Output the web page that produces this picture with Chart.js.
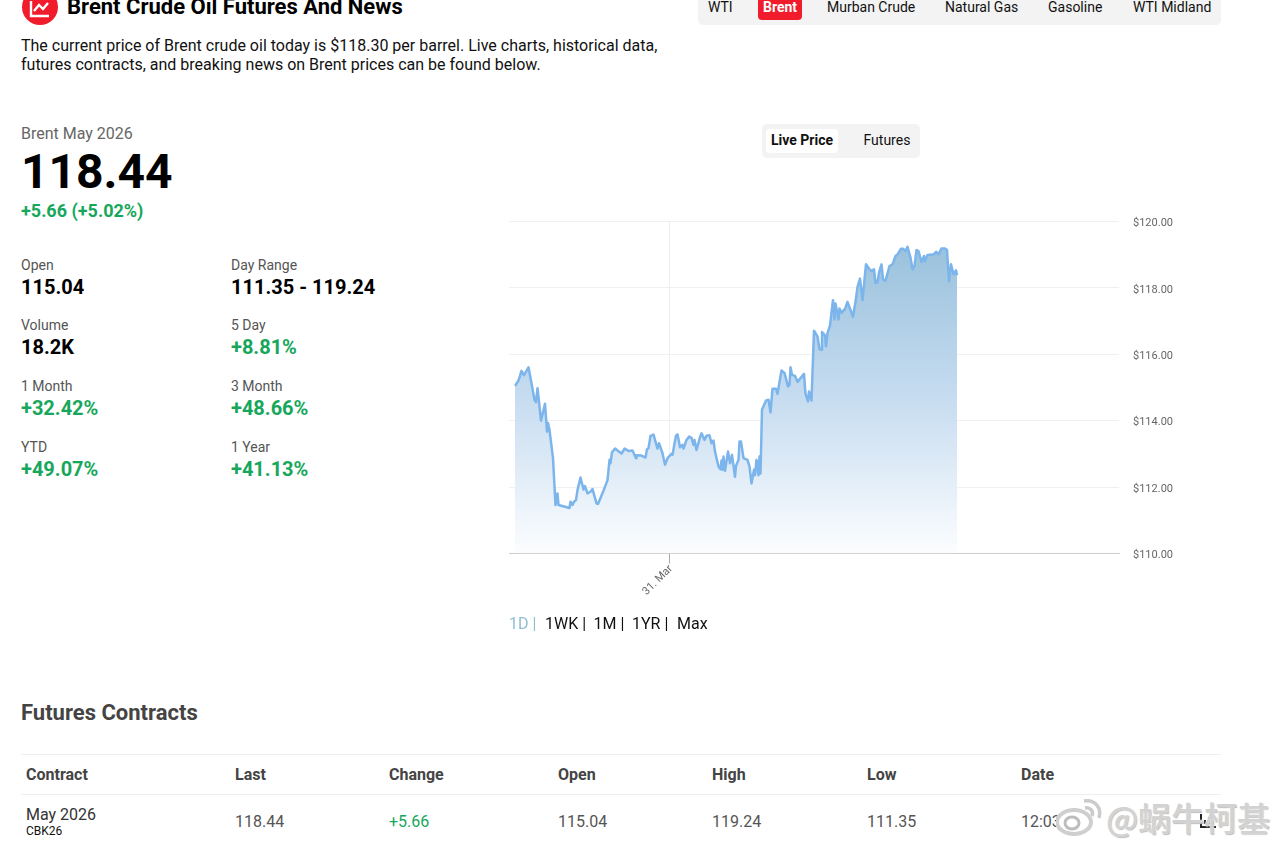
<!DOCTYPE html>
<html lang="en"><head><meta charset="utf-8">
<script src="https://cdn.jsdelivr.net/npm/chart.js@4"></script>
<style>
html,body{margin:0;padding:0;background:#fff;overflow:hidden;width:1282px;height:849px;font-family:Roboto,sans-serif;color:#000}
.t{position:absolute;white-space:nowrap;line-height:20px}
.lab{font-size:14px;color:#555}
.val{font-size:20px;font-weight:700;color:#000}
.th{font-size:16px;font-weight:700;color:#444}
.td{font-size:16px;color:#555}
.nav{font-size:14px;color:#111}
.g{color:#16a75c}
.box{position:absolute}
canvas{position:absolute;left:500px;top:200px}
</style></head><body>
<svg class="box" style="left:21px;top:-11px" width="38" height="36" viewBox="0 0 38 36"><circle cx="19" cy="18" r="18" fill="#f01c2c"/><path d="M10 12V27H28M13 22L18 16L22 20L27 14" fill="none" stroke="#fff" stroke-width="2.4"/></svg>
<div class="t" style="left:67px;top:-3px;font-size:22px;font-weight:700">Brent Crude Oil Futures And News</div>
<div class="t" style="left:21px;top:36px;font-size:16px;line-height:19px;color:#111">The current price of Brent crude oil today is $118.30 per barrel. Live charts, historical data,<br>futures contracts, and breaking news on Brent prices can be found below.</div>

<div class="box" style="left:698px;top:-10px;width:523px;height:35px;background:#f3f3f3;border-radius:5px"></div>
<div class="box" style="left:758px;top:-5px;width:44px;height:25px;background:#f01c2c;border-radius:4px"></div>
<div class="t nav" style="left:708px;top:-3px">WTI</div>
<div class="t nav" style="left:763px;top:-3px;color:#fff;font-weight:700">Brent</div>
<div class="t nav" style="left:827px;top:-3px">Murban Crude</div>
<div class="t nav" style="left:945px;top:-3px">Natural Gas</div>
<div class="t nav" style="left:1048px;top:-3px">Gasoline</div>
<div class="t nav" style="left:1133px;top:-3px">WTI Midland</div>

<div class="box" style="left:762px;top:124px;width:158px;height:34px;background:#f3f3f3;border-radius:5px"></div>
<div class="box" style="left:766px;top:129px;width:72px;height:24px;background:#fff;border-radius:4px"></div>
<div class="t nav" style="left:771px;top:130px;font-weight:700">Live Price</div>
<div class="t nav" style="left:863.5px;top:130px">Futures</div>

<div class="t" style="left:21px;top:124px;font-size:16px;color:#666">Brent May 2026</div>
<div class="t" style="left:21px;top:147px;font-size:48px;line-height:50px;font-weight:700">118.44</div>
<div class="t g" style="left:21px;top:201px;font-size:18px;font-weight:700">+5.66 (+5.02%)</div>

<div class="t lab" style="left:21px;top:255px">Open</div><div class="t val" style="left:21px;top:277px">115.04</div>
<div class="t lab" style="left:231px;top:255px">Day Range</div><div class="t val" style="left:231px;top:277px">111.35 - 119.24</div>
<div class="t lab" style="left:21px;top:315px">Volume</div><div class="t val" style="left:21px;top:337px">18.2K</div>
<div class="t lab" style="left:231px;top:315px">5 Day</div><div class="t val g" style="left:231px;top:337px">+8.81%</div>
<div class="t lab" style="left:21px;top:376px">1 Month</div><div class="t val g" style="left:21px;top:398px">+32.42%</div>
<div class="t lab" style="left:231px;top:376px">3 Month</div><div class="t val g" style="left:231px;top:398px">+48.66%</div>
<div class="t lab" style="left:21px;top:437px">YTD</div><div class="t val g" style="left:21px;top:459px">+49.07%</div>
<div class="t lab" style="left:231px;top:437px">1 Year</div><div class="t val g" style="left:231px;top:459px">+41.13%</div>

<canvas id="c" width="700" height="420" style="width:700px;height:420px"></canvas>

<div class="t" style="left:509px;top:614px;font-size:16px;color:#8fbdd3">1D |</div>
<div class="t" style="left:545px;top:614px;font-size:16px;color:#111">1WK |</div>
<div class="t" style="left:593.5px;top:614px;font-size:16px;color:#111">1M |</div>
<div class="t" style="left:632px;top:614px;font-size:16px;color:#111">1YR |</div>
<div class="t" style="left:677px;top:614px;font-size:16px;color:#111">Max</div>

<div class="t" style="left:21px;top:701px;font-size:22px;line-height:24px;font-weight:700;color:#444">Futures Contracts</div>
<div class="box" style="left:21px;top:754px;width:1200px;height:1px;background:#eee"></div>
<div class="box" style="left:21px;top:794px;width:1200px;height:1px;background:#eee"></div>
<div class="t th" style="left:26px;top:765px">Contract</div>
<div class="t th" style="left:235px;top:765px">Last</div>
<div class="t th" style="left:389px;top:765px">Change</div>
<div class="t th" style="left:558px;top:765px">Open</div>
<div class="t th" style="left:712px;top:765px">High</div>
<div class="t th" style="left:867px;top:765px">Low</div>
<div class="t th" style="left:1021px;top:765px">Date</div>
<div class="t" style="left:26px;top:805px;font-size:16px;color:#333">May 2026</div>
<div class="t" style="left:26px;top:821px;font-size:12px;color:#111">CBK26</div>
<div class="t td" style="left:235px;top:812px">118.44</div>
<div class="t td g" style="left:389px;top:812px">+5.66</div>
<div class="t td" style="left:558px;top:812px">115.04</div>
<div class="t td" style="left:712px;top:812px">119.24</div>
<div class="t td" style="left:867px;top:812px">111.35</div>
<div class="t td" style="left:1021px;top:812px">12:03</div>
<svg class="box" style="left:1200px;top:813px" width="18" height="16"><path d="M1 1V14H16M5 11V7M9 11V4M13 11V8" fill="none" stroke="#222" stroke-width="2"/></svg>

<svg class="box" style="left:1056px;top:796px" width="50" height="40" viewBox="0 0 50 40"><ellipse cx="18" cy="26" rx="17" ry="12" fill="#fff" stroke="#cfcfcf" stroke-width="4"/><ellipse cx="16" cy="27" rx="7" ry="6" fill="none" stroke="#bdbdbd" stroke-width="3"/><path d="M28 5C39 3 46 12 43 22M29 12C34 11 38 15 36 20" fill="none" stroke="#cbcbcb" stroke-width="3.5"/></svg>
<div class="t" style="left:1106px;top:799px;font-family:'Noto Sans CJK SC';font-weight:500;font-size:33px;line-height:36px;color:#d2d2d2;text-shadow:0 0 2px #fff,1px 1px 1px #aaa">@蜗牛柯基</div>

<script>
const minutes=[-308,-301,-295,-290,-281,-275,-269,-266,-263,-259,-256,-248,-244,-242,-239,-232,-227,-223,-221,-199,-197,-193,-190,-186,-183,-177,-171,-168,-163,-157,-153,-145,-142,-130,-123,-119,-117,-114,-108,-95,-89,-81,-73,-66,-65,-55,-47,-44,-41,-37,-31,-23,-20,-13,-8,-3,5,7,10,14,17,22,27,29,35,40,45,49,51,55,62,65,71,75,81,85,89,92,99,103,105,107,109,112,118,122,126,132,134,139,141,144,149,157,161,165,170,172,175,179,181,183,186,194,199,203,207,214,217,225,231,238,241,243,246,252,257,264,270,273,278,280,285,290,297,301,304,306,312,314,317,322,328,331,333,339,341,345,352,357,368,373,377,382,387,394,401,405,410,413,417,420,425,428,433,441,447,453,457,464,468,473,477,483,487,491,495,499,505,510,512,517,530,534,539,545,552,556,560,564,569,574,576];
const prices=[115.05,115.21,115.50,115.37,115.61,115.13,114.63,114.56,114.98,114.43,114.00,114.51,113.67,113.93,113.72,112.87,111.46,111.81,111.46,111.37,111.56,111.46,111.56,111.61,111.91,112.29,111.93,112.03,111.81,111.86,111.94,111.51,111.49,111.93,112.21,112.82,112.72,113.05,113.16,113.01,113.16,113.09,113.10,112.87,112.96,112.95,112.89,113.14,113.17,113.54,113.58,113.16,113.32,113.02,112.67,112.87,113.00,112.97,113.22,113.55,113.59,113.20,113.27,113.16,113.42,113.52,113.48,113.27,113.42,113.12,113.50,113.62,113.42,113.55,113.56,113.32,113.40,113.07,112.62,112.54,112.80,112.52,112.92,112.49,113.07,112.72,112.97,112.31,112.64,112.82,113.37,113.37,112.87,112.82,112.62,112.11,112.52,112.36,112.82,112.36,112.92,112.41,114.33,114.61,114.63,114.25,114.96,114.96,114.81,115.51,115.44,115.03,115.08,115.61,115.38,115.35,115.17,115.30,115.41,114.81,114.58,114.88,114.61,116.71,116.54,116.16,116.14,116.67,116.57,116.24,116.64,116.87,117.63,117.05,117.53,117.05,117.38,117.25,117.37,117.58,117.13,117.58,118.03,118.28,117.63,118.71,118.56,118.51,118.56,118.15,118.17,118.46,118.71,118.26,118.21,118.66,118.71,118.96,119.01,119.18,119.18,119.11,119.24,118.91,118.56,118.66,119.14,119.11,118.78,118.96,118.81,118.99,119.01,119.09,119.01,119.19,119.19,119.14,118.20,118.71,118.41,118.53,118.38];
const xTickValues=[0];
const xTickLabels=['31. Mar'];
const yTicks=[110,112,114,116,118,120];
const seriesName='Brent May 2026';

const points=minutes.map((m,i)=>({x:m,y:prices[i]}));
new Chart(document.getElementById('c'),{
  type:'line',
  data:{datasets:[{
    label:seriesName,data:points,
    borderColor:'#7cb5ec',borderWidth:2.5,pointRadius:0,tension:0,
    borderJoinStyle:'round',fill:'origin',
    backgroundColor(ctx){
      const a=ctx.chart.chartArea;
      if(!a) return 'transparent';
      const g=ctx.chart.ctx.createLinearGradient(0,a.top+25,0,a.bottom-5);
      g.addColorStop(0,'#9ac2dc');
      g.addColorStop(0.5,'#c6dcf0');
      g.addColorStop(1,'#fafcfe');
      return g;
    }
  }]},
  options:{
    responsive:false,animation:false,devicePixelRatio:1,
    layout:{autoPadding:false,padding:{left:9,top:21.5,right:0,bottom:0}},
    plugins:{legend:{display:false},tooltip:{enabled:false}},
    scales:{
      x:{type:'linear',min:-320,max:900,
        afterBuildTicks(s){s.ticks=xTickValues.map(v=>({value:v}));},
        afterFit(s){s.height=66.5;},
        border:{color:'#ccc'},
        grid:{color:'#eeeeee',tickColor:'#aaa',tickLength:10,drawTicks:true},
        ticks:{autoSkip:false,minRotation:45,maxRotation:45,padding:-1,labelOffset:2,color:'#666',font:{family:'Roboto',size:11},
          callback(v){const i=xTickValues.indexOf(v);return i<0?'':xTickLabels[i];}}
      },
      y:{type:'linear',position:'right',min:110,max:120,
        afterBuildTicks(s){s.ticks=yTicks.map(v=>({value:v}));},
        afterFit(s){s.width=81;},
        border:{display:false},
        grid:{color:'#f0f0f0',drawTicks:false},
        ticks:{padding:14,labelOffset:2,color:'#666',font:{family:'Roboto',size:11},callback(v){return '$'+v.toFixed(2);}}
      }
    }
  }
});
</script>
</body></html>
